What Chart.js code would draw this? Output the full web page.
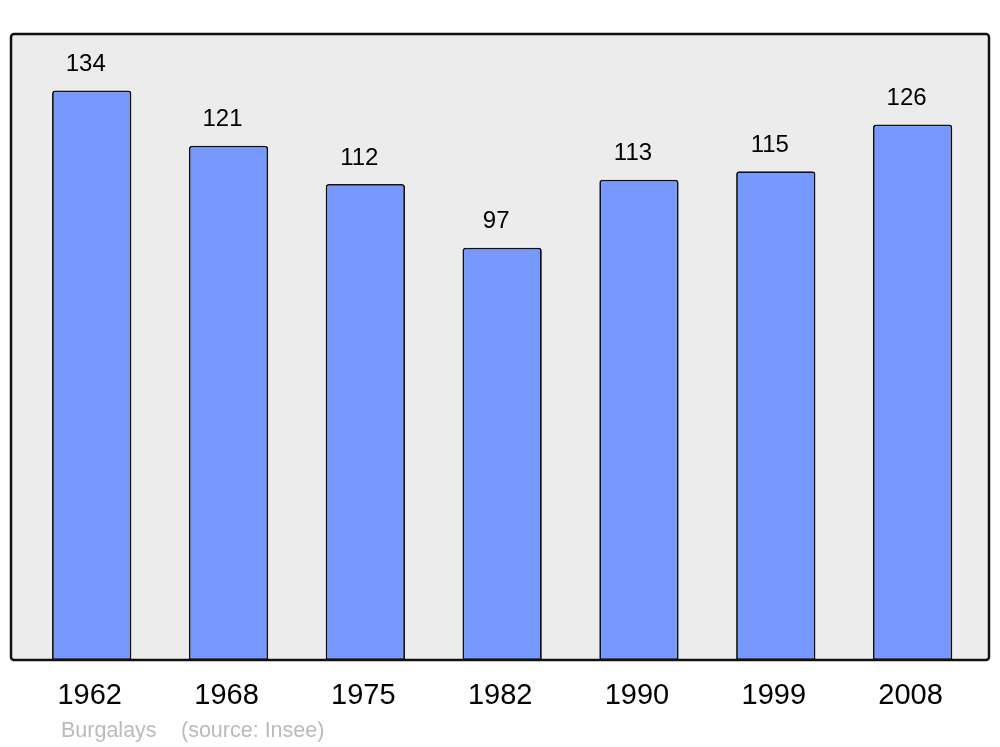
<!DOCTYPE html>
<html>
<head>
<meta charset="utf-8">
<script src="https://cdn.jsdelivr.net/npm/chart.js@4"></script>
<style>
  html, body { margin: 0; padding: 0; background: #fff; }
  #wrap { width: 1000px; height: 747px; }
</style>
</head>
<body>
<div id="wrap"><canvas id="chart" width="1000" height="747"></canvas></div>
<script>
// population data
const years = ['1962', '1968', '1975', '1982', '1990', '1999', '2008'];
const population = [134, 121, 112, 97, 113, 115, 126];
const commune = 'Burgalays';
const source = '(source: Insee)';

const fontFamily = '"Liberation Sans", Arial, sans-serif';

// grey frame behind the bars
const framePlugin = {
    id: 'frame',
    beforeDatasetsDraw(chart) {
        const ctx = chart.ctx;
        ctx.save();
        ctx.beginPath();
        ctx.roundRect(11, 34, 978, 626, 3);
        ctx.fillStyle = '#ececec';
        ctx.fill();
        ctx.restore();
    },
    afterDatasetsDraw(chart) {
        const ctx = chart.ctx;
        ctx.save();
        ctx.beginPath();
        ctx.roundRect(11, 34, 978, 626, 3);
        ctx.lineWidth = 2.5;
        ctx.strokeStyle = '#111';
        ctx.stroke();
        ctx.restore();
    }
};

// value labels, year labels and source line
const labelsPlugin = {
    id: 'labels',
    afterDraw(chart) {
        const ctx = chart.ctx;
        const meta = chart.getDatasetMeta(0);
        const xScale = chart.scales.x;
        ctx.save();
        ctx.fillStyle = '#000';
        ctx.textAlign = 'center';
        ctx.textBaseline = 'middle';
        ctx.font = '24px ' + fontFamily;
        meta.data.forEach((bar, i) => {
            ctx.fillText(String(population[i]), bar.x - 6, bar.y - 26);
        });
        ctx.font = '29px ' + fontFamily;
        years.forEach((yr, i) => {
            ctx.fillText(yr, xScale.getPixelForValue(i) - 2, 696);
        });
        ctx.fillStyle = '#bbbbbb';
        ctx.textAlign = 'left';
        ctx.font = '21.5px ' + fontFamily;
        ctx.fillText(commune, 61, 731);
        ctx.fillText(source, 181, 731);
        ctx.restore();
    }
};

new Chart(document.getElementById('chart'), {
    type: 'bar',
    data: {
        labels: years,
        datasets: [{
            data: population,
            backgroundColor: '#7799ff',
            borderColor: '#111',
            borderWidth: 1.8,
            borderRadius: { topLeft: 3, topRight: 3, bottomLeft: 0, bottomRight: 0 },
            borderSkipped: false,
            barPercentage: 0.58,
            categoryPercentage: 1
        }]
    },
    options: {
        responsive: false,
        animation: false,
        layout: { padding: { left: 23.3, right: 19, top: 34, bottom: 87 } },
        plugins: {
            legend: { display: false },
            tooltip: { enabled: false }
        },
        scales: {
            x: { display: false },
            y: { display: false, min: 0, max: 147.3 }
        }
    },
    plugins: [framePlugin, labelsPlugin]
});
</script>
</body>
</html>
